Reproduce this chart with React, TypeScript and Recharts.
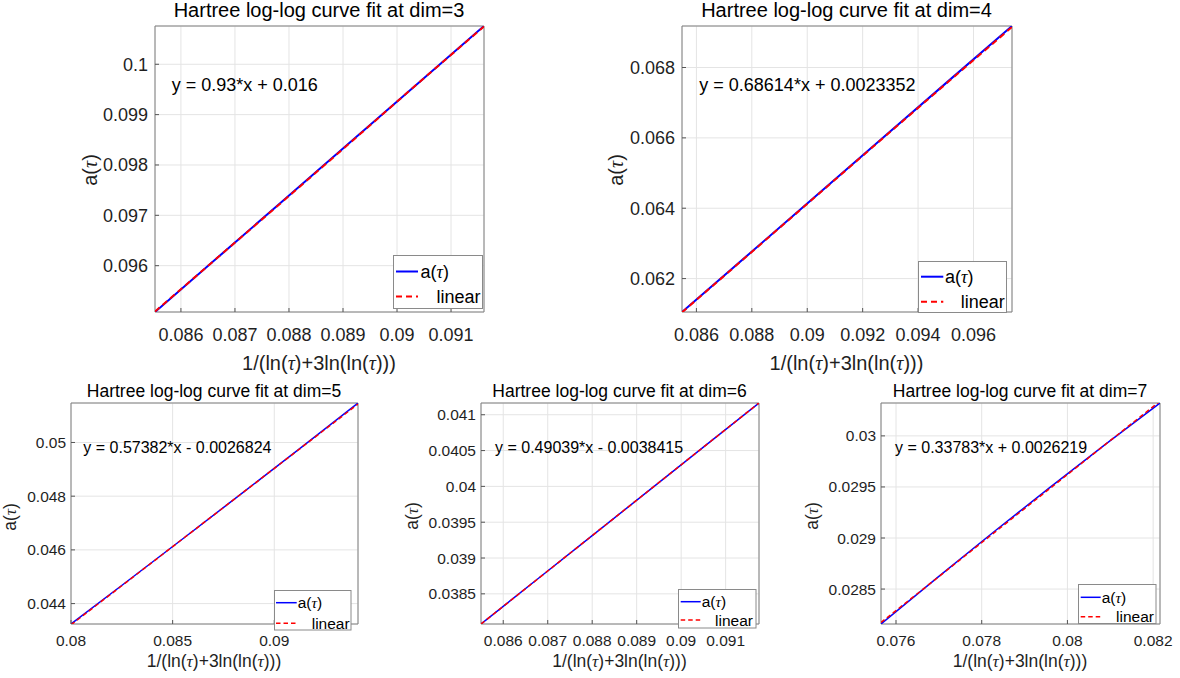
import React from 'react';
import { LineChart, Line, XAxis, YAxis, CartesianGrid, Legend, ReferenceArea } from 'recharts';

const FONT = '"Liberation Sans", Arial, Helvetica, sans-serif';
const TAU_FONT = '"Liberation Serif", "DejaVu Serif", serif';

const seriesNames = ['a(τ)', 'linear'];
const titles = [
  'Hartree log-log curve fit at dim=3',
  'Hartree log-log curve fit at dim=4',
  'Hartree log-log curve fit at dim=5',
  'Hartree log-log curve fit at dim=6',
  'Hartree log-log curve fit at dim=7',
];
const equations = [
  'y = 0.93*x + 0.016',
  'y = 0.68614*x + 0.0023352',
  'y = 0.57382*x - 0.0026824',
  'y = 0.49039*x - 0.0038415',
  'y = 0.33783*x + 0.0026219',
];

// dim = 3
const dim3X = [0.08552, 0.0867, 0.0879, 0.0891, 0.0903, 0.09161];
const dim3A = [0.09508, 0.09618, 0.0973, 0.09842, 0.09954, 0.10076];
const dim3Fit = [0.09509, 0.09618, 0.09729, 0.09841, 0.09954, 0.10075];
const dim3XTicks = [0.086, 0.087, 0.088, 0.089, 0.09, 0.091];
const dim3XTickLabels = ['0.086', '0.087', '0.088', '0.089', '0.09', '0.091'];
const dim3YTicks = [0.096, 0.097, 0.098, 0.099, 0.1];
const dim3YTickLabels = ['0.096', '0.097', '0.098', '0.099', '0.1'];

// dim = 4
const dim4X = [0.08548, 0.0879, 0.0903, 0.0927, 0.0951, 0.09739];
const dim4A = [0.06105, 0.0627, 0.06434, 0.06598, 0.06762, 0.06918];
const dim4Fit = [0.06104, 0.06269, 0.06433, 0.06597, 0.0676, 0.06915];
const dim4XTicks = [0.086, 0.088, 0.09, 0.092, 0.094, 0.096];
const dim4XTickLabels = ['0.086', '0.088', '0.09', '0.092', '0.094', '0.096'];
const dim4YTicks = [0.062, 0.064, 0.066, 0.068];
const dim4YTickLabels = ['0.062', '0.064', '0.066', '0.068'];

// dim = 5
const dim5X = [0.08, 0.0828, 0.0856, 0.0885, 0.0913, 0.09412];
const dim5A = [0.04324, 0.04485, 0.04647, 0.04816, 0.0498, 0.05147];
const dim5Fit = [0.04321, 0.04484, 0.04647, 0.04816, 0.04979, 0.05143];
const dim5XTicks = [0.08, 0.085, 0.09];
const dim5XTickLabels = ['0.08', '0.085', '0.09'];
const dim5YTicks = [0.044, 0.046, 0.048, 0.05];
const dim5YTickLabels = ['0.044', '0.046', '0.048', '0.05'];

// dim = 6
const dim6X = [0.0855, 0.0868, 0.088, 0.0893, 0.0905, 0.09175];
const dim6A = [0.038079, 0.038721, 0.039313, 0.039955, 0.040547, 0.041164];
const dim6Fit = [0.038078, 0.03872, 0.039313, 0.039955, 0.040548, 0.041165];
const dim6XTicks = [0.086, 0.087, 0.088, 0.089, 0.09, 0.091];
const dim6XTickLabels = ['0.086', '0.087', '0.088', '0.089', '0.09', '0.091'];
const dim6YTicks = [0.0385, 0.039, 0.0395, 0.04, 0.0405, 0.041];
const dim6YTickLabels = ['0.0385', '0.039', '0.0395', '0.04', '0.0405', '0.041'];

// dim = 7
const dim7X = [0.07565, 0.077, 0.0783, 0.0796, 0.0809, 0.08216];
const dim7A = [0.028158, 0.028625, 0.029066, 0.029498, 0.029921, 0.030322];
const dim7Fit = [0.028173, 0.028622, 0.029055, 0.029488, 0.029921, 0.03034];
const dim7XTicks = [0.076, 0.078, 0.08, 0.082];
const dim7XTickLabels = ['0.076', '0.078', '0.08', '0.082'];
const dim7YTicks = [0.0285, 0.029, 0.0295, 0.03];
const dim7YTickLabels = ['0.0285', '0.029', '0.0295', '0.03'];

type Box = { l: number; t: number; r: number; b: number };
type Lg = { l: number; t: number; w: number; h: number; r1: number; r2: number; s1: number; s2: number; t1: number; t2: number };

const topStyle = { titleFs: 20, tickFs: 18, labelFs: 20, eqFs: 18, lgFs: 18, lw: 2, dash: '6 4', xGap: 16, yGap: 7 };
const botStyle = { titleFs: 17.5, tickFs: 15.5, labelFs: 17.5, eqFs: 16, lgFs: 15.5, lw: 1.5, dash: '4.5 3', xGap: 11, yGap: 5 };

const panels = [
  {
    title: titles[0], eq: equations[0], xs: dim3X, a: dim3A, fit: dim3Fit,
    xTicks: dim3XTicks, xTickLabels: dim3XTickLabels, yTicks: dim3YTicks, yTickLabels: dim3YTickLabels,
    box: { l: 155, t: 27, r: 483, b: 312 }, sty: topStyle,
    titleY: 17.3, eqX: 171.7, eqY: 90.5, xLabY: 369.5, yLabX: 97, yLabY: 170,
    lg: { l: 393, t: 255, w: 90, h: 54, r1: 16.5, r2: 41.5, s1: 3, s2: 25, t1: 27.5, t2: 43.5 },
  },
  {
    title: titles[1], eq: equations[1], xs: dim4X, a: dim4A, fit: dim4Fit,
    xTicks: dim4XTicks, xTickLabels: dim4XTickLabels, yTicks: dim4YTicks, yTickLabels: dim4YTickLabels,
    box: { l: 682, t: 27, r: 1011, b: 312 }, sty: topStyle,
    titleY: 17.3, eqX: 699.3, eqY: 90.5, xLabY: 369.5, yLabX: 623, yLabY: 170,
    lg: { l: 918, t: 261, w: 89, h: 52, r1: 15.7, r2: 40.7, s1: 3, s2: 25.3, t1: 27, t2: 42.7 },
  },
  {
    title: titles[2], eq: equations[2], xs: dim5X, a: dim5A, fit: dim5Fit,
    xTicks: dim5XTicks, xTickLabels: dim5XTickLabels, yTicks: dim5YTicks, yTickLabels: dim5YTickLabels,
    box: { l: 71, t: 404, r: 357, b: 624 }, sty: botStyle,
    titleY: 396.7, eqX: 83.3, eqY: 452.7, xLabY: 666.7, yLabX: 16, yLabY: 517,
    lg: { l: 274, t: 590, w: 77.5, h: 40.5, r1: 12.7, r2: 33.3, s1: 2, s2: 22.7, t1: 23.7, t2: 37.7 },
  },
  {
    title: titles[3], eq: equations[3], xs: dim6X, a: dim6A, fit: dim6Fit,
    xTicks: dim6XTicks, xTickLabels: dim6XTickLabels, yTicks: dim6YTicks, yTickLabels: dim6YTickLabels,
    box: { l: 481, t: 404, r: 758, b: 624 }, sty: botStyle,
    titleY: 396.7, eqX: 495, eqY: 452.7, xLabY: 666.7, yLabX: 418.3, yLabY: 516,
    lg: { l: 678, t: 589, w: 78.5, h: 39.5, r1: 12.7, r2: 31, s1: 2.7, s2: 22.7, t1: 23.7, t2: 37 },
  },
  {
    title: titles[4], eq: equations[4], xs: dim7X, a: dim7A, fit: dim7Fit,
    xTicks: dim7XTicks, xTickLabels: dim7XTickLabels, yTicks: dim7YTicks, yTickLabels: dim7YTickLabels,
    box: { l: 881, t: 404, r: 1159, b: 624 }, sty: botStyle,
    titleY: 396.7, eqX: 895, eqY: 452.7, xLabY: 666.7, yLabX: 818.3, yLabY: 516,
    lg: { l: 1078, t: 584, w: 78.5, h: 40, r1: 13.3, r2: 32.7, s1: 2.7, s2: 22.7, t1: 23.7, t2: 38 },
  },
];

function TauText({ text }: { text: string }) {
  const parts = text.split('τ');
  const out: React.ReactNode[] = [];
  parts.forEach((p, i) => {
    if (p) out.push(<tspan key={'p' + i}>{p}</tspan>);
    if (i < parts.length - 1)
      out.push(
        <tspan key={'t' + i} fontFamily={TAU_FONT} fontStyle="italic">
          τ
        </tspan>
      );
  });
  return <>{out}</>;
}

const X_LABEL = '1/(ln(τ)+3ln(ln(τ)))';
const Y_LABEL = 'a(τ)';

function makeLegend(p: any) {
  const lg: Lg = p.lg;
  const s = p.sty;
  return (props: any) => {
    const payload = props && props.payload ? props.payload : [];
    const name0 = payload[0] ? payload[0].value : seriesNames[0];
    const name1 = payload[1] ? payload[1].value : seriesNames[1];
    return (
      <svg width={lg.w} height={lg.h} style={{ display: 'block' }}>
        <rect x={0.5} y={0.5} width={lg.w - 1} height={lg.h - 1} fill="#fff" stroke="#8a8a8a" strokeWidth={1} />
        <line x1={lg.s1} x2={lg.s2} y1={lg.r1} y2={lg.r1} stroke="#0000ff" strokeWidth={s.lw} />
        <line x1={lg.s1} x2={lg.s2} y1={lg.r2} y2={lg.r2} stroke="#ff0000" strokeWidth={s.lw} strokeDasharray={s.dash} />
        <text x={lg.t1} y={lg.r1 + s.lgFs * 0.36} fontSize={s.lgFs} fontFamily={FONT} fill="#000">
          <TauText text={name0} />
        </text>
        <text x={lg.t2} y={lg.r2 + s.lgFs * 0.36} fontSize={s.lgFs} fontFamily={FONT} fill="#000">
          <TauText text={name1} />
        </text>
      </svg>
    );
  };
}

function Panel({ p }: { p: any }) {
  const ML = 90, MT = 30, MR = 14, MB = 70;
  const box: Box = p.box;
  const s = p.sty;
  const w = box.r - box.l;
  const h = box.b - box.t;
  const rows = p.xs.map((x: number, i: number) => ({ x, a: p.a[i], fit: p.fit[i] }));
  const xDom: [number, number] = [Math.min(...p.xs), Math.max(...p.xs)];
  const yDom: [number, number] = [Math.min(...p.a), Math.max(...p.a)];
  const left0 = box.l - ML;
  const top0 = box.t - MT;
  const tickStyle = { fontSize: s.tickFs, fill: '#1f1f1f', fontFamily: FONT };
  const xFmt = (_v: number, i: number) => p.xTickLabels[i];
  const yFmt = (_v: number, i: number) => p.yTickLabels[i];
  return (
    <div style={{ position: 'absolute', left: left0, top: top0 }}>
      <LineChart
        width={w + ML + MR}
        height={h + MT + MB}
        data={rows}
        margin={{ top: MT - 1, right: MR - 1, left: 0, bottom: 0 }}
        style={{ fontFamily: FONT }}
      >
        <CartesianGrid xAxisId="b" yAxisId="l" stroke="#e4e4e4" strokeWidth={1} />
        <XAxis
          xAxisId="b"
          type="number"
          dataKey="x"
          domain={xDom}
          allowDataOverflow
          ticks={p.xTicks}
          interval={0}
          tickFormatter={xFmt}
          height={MB}
          tickSize={-4}
          tickMargin={s.xGap + 4}
          tick={tickStyle}
          tickLine={{ stroke: '#555' }}
          axisLine={false}
        />
        <XAxis
          xAxisId="t"
          orientation="top"
          type="number"
          dataKey="x"
          domain={xDom}
          allowDataOverflow
          ticks={p.xTicks}
          interval={0}
          height={1}
          mirror
          tick={false}
          tickSize={4}
          tickLine={{ stroke: '#555' }}
          axisLine={false}
        />
        <YAxis
          yAxisId="l"
          type="number"
          domain={yDom}
          allowDataOverflow
          ticks={p.yTicks}
          interval={0}
          tickFormatter={yFmt}
          width={ML}
          tickSize={-4}
          tickMargin={s.yGap + 4}
          tick={tickStyle}
          tickLine={{ stroke: '#555' }}
          axisLine={false}
        />
        <YAxis
          yAxisId="r"
          orientation="right"
          type="number"
          domain={yDom}
          allowDataOverflow
          ticks={p.yTicks}
          interval={0}
          width={1}
          mirror
          tick={false}
          tickSize={4}
          tickLine={{ stroke: '#555' }}
          axisLine={false}
        />
        <Line
          xAxisId="b"
          yAxisId="l"
          type="linear"
          dataKey="a"
          name={seriesNames[0]}
          stroke="#0000ff"
          strokeWidth={s.lw}
          dot={false}
          activeDot={false}
          isAnimationActive={false}
        />
        <Line
          xAxisId="b"
          yAxisId="l"
          type="linear"
          dataKey="fit"
          name={seriesNames[1]}
          stroke="#ff0000"
          strokeWidth={s.lw}
          strokeDasharray={s.dash}
          dot={false}
          activeDot={false}
          isAnimationActive={false}
        />
        <ReferenceArea
          xAxisId="b"
          yAxisId="l"
          x1={xDom[0]}
          x2={xDom[1]}
          y1={yDom[0]}
          y2={yDom[1]}
          fill="none"
          fillOpacity={0}
          stroke="#808080"
          strokeWidth={1}
          ifOverflow="visible"
        />
        <Legend
          layout="vertical"
          align="center"
          verticalAlign="middle"
          wrapperStyle={{ left: p.lg.l - left0, top: p.lg.t - top0, width: p.lg.w, height: p.lg.h }}
          content={makeLegend(p)}
        />
      </LineChart>
    </div>
  );
}

function Overlay() {
  return (
    <svg
      width={1180}
      height={678}
      style={{ position: 'absolute', left: 0, top: 0, pointerEvents: 'none' }}
      fontFamily={FONT}
    >
      {panels.map((p, i) => {
        const cx = (p.box.l + p.box.r) / 2;
        const s = p.sty;
        return (
          <g key={i}>
            <text x={cx} y={p.titleY} textAnchor="middle" fontSize={s.titleFs} fill="#000">
              {p.title}
            </text>
            <text x={p.eqX} y={p.eqY} fontSize={s.eqFs} fill="#000">
              {p.eq}
            </text>
            <text x={cx} y={p.xLabY} textAnchor="middle" fontSize={s.labelFs} fill="#1f1f1f">
              <TauText text={X_LABEL} />
            </text>
            <text
              transform={`translate(${p.yLabX},${p.yLabY}) rotate(-90)`}
              textAnchor="middle"
              fontSize={s.labelFs}
              fill="#1f1f1f"
            >
              <TauText text={Y_LABEL} />
            </text>
          </g>
        );
      })}
    </svg>
  );
}

export default function App() {
  return (
    <div
      style={{
        position: 'absolute',
        left: 0,
        top: 0,
        width: 1180,
        height: 678,
        background: '#fff',
        overflow: 'hidden',
        fontFamily: FONT,
      }}
    >
      {panels.map((p, i) => (
        <Panel key={i} p={p} />
      ))}
      <Overlay />
    </div>
  );
}
